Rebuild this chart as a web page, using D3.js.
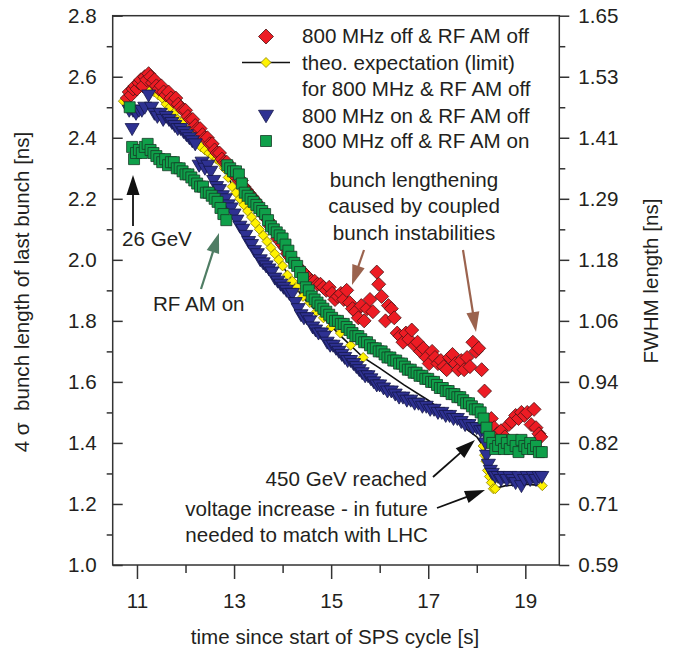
<!DOCTYPE html>
<html>
<head>
<meta charset="utf-8">
<script src="https://cdn.jsdelivr.net/npm/d3@7"></script>
<style>
  body { margin: 0; background: #fff; }
  svg { display: block; font-family: "Liberation Sans", Arial, Helvetica, sans-serif; }
</style>
</head>
<body>
<script>
// chart data ================================================================
var xTicks       = [11, 12, 13, 14, 15, 16, 17, 18, 19]
var xTickLabels  = ["11", "", "13", "", "15", "", "17", "", "19"]
var yTicks       = [1.0, 1.1, 1.2, 1.3, 1.4, 1.5, 1.6, 1.7, 1.8, 1.9, 2.0, 2.1, 2.2, 2.3, 2.4, 2.5, 2.6, 2.7, 2.8]
var yTickLabels  = ["1.0", "", "1.2", "", "1.4", "", "1.6", "", "1.8", "", "2.0", "", "2.2", "", "2.4", "", "2.6", "", "2.8"]
var fwhmLabels   = ["0.59", "", "0.71", "", "0.82", "", "0.94", "", "1.06", "", "1.18", "", "1.29", "", "1.41", "", "1.53", "", "1.65"]

var legendLabels = ["800 MHz off & RF AM off", "theo. expectation (limit)", "for 800 MHz & RF AM off",
                    "800 MHz on & RF AM off", "800 MHz off & RF AM on"]

// 800 MHz off & RF AM off  [time s, 4 sigma ns]
var offOff = [
  [10.80,2.53],[10.84,2.55],[10.88,2.54],[10.92,2.56],[10.96,2.57],[11.00,2.56],[11.04,2.58],[11.08,2.59],
  [11.12,2.57],[11.16,2.60],[11.20,2.59],[11.24,2.61],[11.28,2.60],[11.32,2.58],[11.36,2.59],[11.40,2.57],
  [11.45,2.56],[11.50,2.57],[11.55,2.55],[11.60,2.54],[11.65,2.55],[11.70,2.53],[11.75,2.52],[11.80,2.53],
  [11.85,2.51],[11.90,2.50],[11.95,2.49],[12.00,2.49],[12.05,2.47],[12.10,2.46],[12.15,2.46],[12.20,2.44],
  [12.25,2.43],[12.30,2.43],[12.35,2.41],[12.40,2.40],[12.45,2.40],[12.50,2.38],[12.55,2.38],[12.60,2.36],
  [12.65,2.35],[12.70,2.35],[12.75,2.33],[12.80,2.32],[12.85,2.32],[12.90,2.30],[12.95,2.29],[13.00,2.29],
  [13.05,2.27],[13.10,2.26],[13.15,2.26],[13.20,2.24],[13.25,2.23],[13.30,2.22],[13.35,2.21],[13.40,2.20],
  [13.45,2.19],[13.50,2.17],[13.55,2.17],[13.60,2.15],[13.65,2.14],[13.70,2.13],[13.75,2.11],[13.80,2.10],
  [13.85,2.09],[13.90,2.07],[13.95,2.06],[14.00,2.05],[14.05,2.04],[14.10,2.02],[14.15,2.01],[14.20,2.00],
  [14.25,1.99],[14.30,1.98],[14.36,1.97],[14.42,1.96],[14.48,1.95],[14.54,1.94],[14.60,1.93],[14.66,1.93],
  [14.72,1.92],[14.78,1.92],[14.84,1.91],[14.90,1.90],[14.96,1.91],
  [15.02,1.89],[15.08,1.87],[15.14,1.88],[15.20,1.89],[15.26,1.87],[15.32,1.90],[15.38,1.86],[15.44,1.84],
  [15.50,1.83],[15.56,1.81],[15.62,1.85],[15.68,1.80],[15.74,1.84],[15.80,1.87],[15.86,1.83],[15.94,1.96],
  [15.98,1.92],[16.04,1.88],[16.12,1.80],[16.18,1.85],[16.24,1.84],[16.30,1.81],[16.36,1.76],
  [16.42,1.75],[16.48,1.73],[16.54,1.76],[16.60,1.74],[16.66,1.77],[16.72,1.72],[16.78,1.73],[16.84,1.70],
  [16.90,1.71],[16.96,1.68],[17.02,1.66],[17.08,1.70],[17.14,1.68],[17.20,1.66],[17.26,1.67],[17.32,1.65],
  [17.38,1.64],[17.44,1.68],[17.50,1.69],[17.56,1.66],[17.62,1.64],[17.68,1.67],[17.74,1.64],[17.80,1.68],
  [17.86,1.65],[17.92,1.73],[17.98,1.70],[18.04,1.71],[18.10,1.64],
  [18.16,1.57],[18.22,1.47],[18.26,1.44],[18.30,1.48],[18.36,1.45],[18.42,1.43],[18.50,1.44],[18.58,1.42],
  [18.66,1.46],[18.72,1.47],[18.80,1.49],[18.86,1.48],[18.92,1.50],[18.98,1.49],[19.04,1.50],[19.12,1.46],
  [19.18,1.51],[19.22,1.45],[19.28,1.43],[19.32,1.42]
]

// theoretical expectation (limit): the curve and its marked points
var theoCurve = [
  [10.72,2.52],[11.00,2.56],[11.20,2.57],[11.40,2.55],[11.60,2.51],[11.84,2.46],[12.00,2.43],[12.40,2.36],
  [12.80,2.30],[13.00,2.23],[13.40,2.13],[13.80,2.03],[14.00,1.98],[14.40,1.88],[14.84,1.81],[15.20,1.75],
  [15.66,1.68],[16.00,1.645],[16.50,1.59],[17.00,1.54],[17.50,1.48],[18.00,1.42],[18.13,1.39],[18.19,1.34],
  [18.26,1.29],[18.34,1.25],[18.60,1.26],[19.00,1.265],[19.35,1.26]
]
var theoPoints = [
  [10.72,2.52],[10.80,2.53],[10.88,2.54],[10.96,2.55],[11.04,2.56],[11.12,2.57],[11.20,2.57],[11.28,2.56],
  [11.36,2.55],[11.44,2.54],[11.52,2.53],[11.60,2.51],[11.68,2.50],[11.76,2.48],[11.84,2.46],[11.92,2.45],
  [12.00,2.43],[12.08,2.42],[12.16,2.40],[12.24,2.39],[12.32,2.37],[12.40,2.36],[12.48,2.35],[12.56,2.34],
  [12.64,2.33],[12.72,2.32],[12.80,2.30],[12.88,2.27],[12.96,2.24],[13.04,2.22],[13.12,2.20],[13.20,2.18],
  [13.28,2.16],[13.36,2.14],[13.44,2.12],[13.52,2.10],[13.60,2.08],[13.68,2.06],[13.76,2.04],[13.84,2.02],
  [13.92,2.00],[14.00,1.98],[14.10,1.95],[14.20,1.93],[14.30,1.91],[14.42,1.88],[14.56,1.86],[14.70,1.83],
  [14.84,1.81],[15.00,1.78],[15.19,1.76],[15.40,1.72],[15.66,1.68],
  [18.13,1.39],[18.16,1.36],[18.19,1.34],[18.22,1.31],[18.26,1.29],[18.30,1.27],[18.34,1.25],[18.38,1.25],
  [19.35,1.26]
]

// 800 MHz on & RF AM off
var onOff = [
  [10.84,2.49],[10.90,2.43],[10.92,2.49],[10.98,2.48],[11.04,2.49],[11.10,2.49],[11.16,2.50],[11.24,2.54],
  [11.30,2.50],[11.36,2.48],[11.42,2.47],[11.48,2.48],[11.54,2.46],[11.60,2.47],[11.66,2.46],[11.72,2.45],
  [11.78,2.44],[11.84,2.43],[11.90,2.43],[11.96,2.42],[12.02,2.41],[12.08,2.40],[12.14,2.39],[12.20,2.38],
  [12.28,2.31],[12.34,2.32],[12.40,2.30],[12.46,2.31],[12.52,2.29],[12.58,2.26],[12.64,2.24],[12.70,2.23],
  [12.76,2.21],[12.82,2.20],[12.88,2.18],[12.94,2.17],[13.00,2.15],[13.06,2.13],[13.12,2.11],[13.18,2.10],
  [13.24,2.08],[13.30,2.06],[13.36,2.05],[13.42,2.03],[13.48,2.02],[13.54,2.00],[13.60,1.99],[13.66,1.98],
  [13.72,1.97],[13.78,1.96],[13.84,1.94],[13.90,1.93],[13.96,1.92],[14.02,1.91],[14.08,1.90],[14.14,1.89],
  [14.20,1.89],[14.26,1.86],[14.32,1.84],[14.38,1.82],[14.44,1.81],[14.50,1.81],[14.56,1.80],[14.62,1.78],
  [14.68,1.77],[14.74,1.76],[14.80,1.76],[14.86,1.75],[14.92,1.73],[14.98,1.72],[15.04,1.72],[15.10,1.71],
  [15.16,1.70],[15.22,1.69],[15.28,1.68],[15.34,1.67],[15.40,1.67],[15.46,1.66],[15.52,1.65],[15.58,1.64],
  [15.64,1.63],[15.70,1.62],[15.76,1.62],[15.82,1.61],[15.88,1.60],[15.94,1.59],[16.00,1.59],[16.08,1.58],
  [16.16,1.57],[16.24,1.57],[16.32,1.56],[16.40,1.55],[16.48,1.55],[16.56,1.54],[16.64,1.54],[16.72,1.53],
  [16.80,1.53],[16.88,1.52],[16.96,1.52],[17.04,1.51],[17.12,1.51],[17.20,1.50],[17.28,1.50],[17.36,1.49],
  [17.44,1.49],[17.52,1.48],[17.60,1.48],[17.68,1.47],[17.76,1.46],[17.84,1.46],[17.92,1.45],[18.00,1.45],
  [18.08,1.44],[18.14,1.44],
  [18.18,1.40],[18.20,1.36],[18.24,1.33],[18.28,1.31],[18.32,1.30],[18.38,1.29],[18.44,1.29],[18.50,1.28],
  [18.56,1.29],[18.62,1.28],[18.68,1.29],[18.74,1.28],[18.80,1.27],[18.86,1.29],[18.92,1.26],[18.98,1.28],
  [19.04,1.29],[19.10,1.28],[19.16,1.29],[19.22,1.28],[19.28,1.29],[19.34,1.29]
]

// 800 MHz off & RF AM on
var offOn = [
  [10.85,2.50],
  [10.90,2.37],[10.94,2.33],[10.98,2.35],[11.04,2.36],[11.10,2.35],[11.16,2.37],[11.22,2.38],[11.28,2.36],
  [11.34,2.35],[11.40,2.34],[11.46,2.33],[11.52,2.32],[11.58,2.33],[11.64,2.31],[11.70,2.32],[11.76,2.32],
  [11.82,2.30],[11.88,2.30],[11.94,2.29],[12.00,2.28],[12.06,2.28],[12.12,2.27],[12.18,2.26],[12.24,2.25],
  [12.30,2.24],[12.36,2.24],[12.42,2.22],[12.48,2.22],[12.54,2.21],[12.60,2.20],[12.66,2.19],[12.72,2.17],
  [12.78,2.15],[12.84,2.13],
  [12.86,2.31],[12.92,2.30],[12.98,2.29],[13.04,2.29],[13.10,2.28],[13.16,2.25],[13.22,2.22],[13.28,2.21],
  [13.34,2.20],[13.40,2.19],[13.46,2.18],[13.52,2.17],[13.58,2.16],[13.64,2.15],[13.70,2.13],[13.76,2.11],
  [13.82,2.10],[13.88,2.09],[13.94,2.08],[14.00,2.07],[14.06,2.05],[14.12,2.03],[14.18,2.01],[14.24,1.99],
  [14.30,1.98],[14.36,1.96],[14.42,1.94],[14.48,1.91],[14.54,1.90],[14.60,1.88],[14.66,1.87],[14.72,1.86],
  [14.78,1.85],[14.84,1.84],[14.90,1.83],[14.96,1.82],[15.02,1.81],[15.08,1.80],[15.14,1.80],[15.20,1.79],
  [15.26,1.79],[15.32,1.78],[15.38,1.77],[15.44,1.76],[15.50,1.75],[15.56,1.75],[15.62,1.74],[15.68,1.73],
  [15.74,1.73],[15.80,1.72],[15.86,1.71],[15.92,1.71],[15.98,1.70],[16.04,1.70],[16.10,1.69],[16.16,1.68],
  [16.22,1.68],[16.28,1.67],[16.34,1.67],[16.40,1.66],[16.46,1.66],[16.52,1.65],[16.58,1.64],[16.64,1.64],
  [16.70,1.63],[16.76,1.63],[16.82,1.62],[16.88,1.62],[16.94,1.61],[17.00,1.61],[17.06,1.60],[17.12,1.60],
  [17.18,1.59],[17.24,1.58],[17.30,1.58],[17.36,1.57],[17.42,1.57],[17.48,1.56],[17.54,1.56],[17.60,1.55],
  [17.66,1.55],[17.72,1.54],[17.78,1.53],[17.84,1.53],[17.90,1.52],[17.96,1.51],[18.02,1.51],[18.08,1.50],
  [18.14,1.48],[18.20,1.45],[18.26,1.42],[18.32,1.40],[18.38,1.38],[18.44,1.39],[18.50,1.41],[18.56,1.38],
  [18.62,1.40],[18.68,1.38],[18.74,1.41],[18.80,1.39],[18.86,1.37],[18.92,1.41],[18.98,1.39],[19.04,1.38],
  [19.10,1.40],[19.16,1.38],[19.22,1.39],[19.28,1.37],[19.34,1.37]
]

// layout =====================================================================
var W = 673, H = 650
var frame = { left: 112.7, right: 559.3, top: 15.7, bottom: 565 }
var textColor = "#231f20", axisColor = "#333", fontSize = "20.6px"

var x = d3.scaleLinear().domain([10.5, 19.7]).range([frame.left, frame.right])
var y = d3.scaleLinear().domain([1.0, 2.8]).range([frame.bottom, frame.top])

var svg = d3.select("body").append("svg")
    .attr("width", W)
    .attr("height", H)

// marker shapes
function diamond(r) { return "M0," + (-r) + "L" + r + ",0L0," + r + "L" + (-r) + ",0Z" }
function square(s) { return "M" + (-s / 2) + "," + (-s / 2) + "h" + s + "v" + s + "h" + (-s) + "Z" }
function triDown(w, h) { return "M" + (-w / 2) + "," + (-h * 0.42) + "L" + (w / 2) + "," + (-h * 0.42) + "L0," + (h * 0.58) + "Z" }

var styles = {
    red:    { d: diamond(7),     fill: "#ed1c24", stroke: "#4a1414" },
    yellow: { d: diamond(5),     fill: "#fff200", stroke: "#8c7d00" },
    blue:   { d: triDown(14, 12), fill: "#2e3192", stroke: "#14164a" },
    green:  { d: square(11),     fill: "#0fa04a", stroke: "#173b26" }
}

// frame and axes =============================================================
svg.append("rect")
    .attr("x", frame.left).attr("y", frame.top)
    .attr("width", frame.right - frame.left).attr("height", frame.bottom - frame.top)
    .style("fill", "none").style("stroke", axisColor).style("stroke-width", 1.5)

function styleAxis(g, majorLen, minorLen, isMajor, dir) {
    g.select(".domain").remove()
    g.selectAll(".tick line").style("stroke", axisColor).style("stroke-width", 1.5)
        .each(function(d, i) {
            var len = isMajor(i) ? majorLen : minorLen
            d3.select(this).attr(dir, dir == "y2" ? len : (majorLen < 0 ? -len : len))
        })
    g.selectAll(".tick text").style("fill", textColor).style("font-size", fontSize)
}

var xAxis = svg.append("g")
    .attr("transform", "translate(0," + frame.bottom + ")")
    .call(d3.axisBottom(x).tickValues(xTicks).tickSizeInner(14).tickSizeOuter(0).tickPadding(14)
        .tickFormat(function(d, i) { return xTickLabels[i] }))
styleAxis(xAxis, 14, 8, function(i) { return xTickLabels[i] !== "" }, "y2")

var yAxis = svg.append("g")
    .attr("transform", "translate(" + frame.left + ",0)")
    .call(d3.axisLeft(y).tickValues(yTicks).tickSizeInner(10).tickSizeOuter(0).tickPadding(6)
        .tickFormat(function(d, i) { return yTickLabels[i] }))
styleAxis(yAxis, -10, 6, function(i) { return yTickLabels[i] !== "" }, "x2")

var y2Axis = svg.append("g")
    .attr("transform", "translate(" + frame.right + ",0)")
    .call(d3.axisRight(y).tickValues(yTicks).tickSizeInner(10).tickSizeOuter(0).tickPadding(9)
        .tickFormat(function(d, i) { return fwhmLabels[i] }))
styleAxis(y2Axis, 10, 6, function(i) { return fwhmLabels[i] !== "" }, "x2")

// axis titles
svg.append("text")
    .attr("x", (frame.left + frame.right) / 2 - 1).attr("y", 644)
    .attr("text-anchor", "middle")
    .style("font-size", fontSize).style("fill", textColor)
    .text("time since start of SPS cycle [s]")

svg.append("text")
    .attr("transform", "translate(29,292) rotate(-90)")
    .attr("text-anchor", "middle")
    .style("font-size", fontSize).style("fill", textColor).style("white-space", "pre")
    .text("4 σ  bunch length of last bunch [ns]")

svg.append("text")
    .attr("transform", "translate(658,281) rotate(-90)")
    .attr("text-anchor", "middle")
    .style("font-size", fontSize).style("fill", textColor)
    .text("FWHM length [ns]")

// data =======================================================================
var plot = svg.append("g")

plot.append("path")
    .datum(theoCurve)
    .attr("d", d3.line().x(function(d) { return x(d[0]) }).y(function(d) { return y(d[1]) }))
    .style("fill", "none").style("stroke", "#111").style("stroke-width", 1.6)

function addSeries(data, st) {
    plot.append("g")
        .selectAll("path")
        .data(data)
        .enter().append("path")
        .attr("d", st.d)
        .attr("transform", function(d) { return "translate(" + x(d[0]) + "," + y(d[1]) + ")" })
        .style("fill", st.fill)
        .style("stroke", st.stroke)
        .style("stroke-width", 0.8)
}
addSeries(theoPoints, styles.yellow)
addSeries(offOff, styles.red)
addSeries(onOff, styles.blue)
addSeries(offOn, styles.green)

// legend =====================================================================
var legend = svg.append("g")
var legendBase = [43, 69.5, 96, 122.5, 148]
legendLabels.forEach(function(lbl, i) {
    legend.append("text")
        .attr("x", 302).attr("y", legendBase[i])
        .style("font-size", fontSize).style("fill", textColor)
        .text(lbl)
})
function legendMark(st, cy) {
    legend.append("path").attr("d", st.d)
        .attr("transform", "translate(266," + cy + ")")
        .style("fill", st.fill).style("stroke", st.stroke).style("stroke-width", 0.8)
}
legendMark({ d: diamond(7.5), fill: styles.red.fill, stroke: styles.red.stroke }, 36.5)
legend.append("line").attr("x1", 242).attr("x2", 290).attr("y1", 62.5).attr("y2", 62.5)
    .style("stroke", "#111").style("stroke-width", 1.6)
legendMark(styles.yellow, 62.5)
legendMark({ d: triDown(15, 12.5), fill: styles.blue.fill, stroke: styles.blue.stroke }, 115.5)
legendMark(styles.green, 141)

// annotations ================================================================
function arrow(x1, y1, x2, y2, color, width) {
    var a = Math.atan2(y2 - y1, x2 - x1), len = 20, hw = 6.5
    var bx = x2 - len * Math.cos(a), by = y2 - len * Math.sin(a)
    svg.append("line")
        .attr("x1", x1).attr("y1", y1).attr("x2", bx + 2 * Math.cos(a)).attr("y2", by + 2 * Math.sin(a))
        .style("stroke", color).style("stroke-width", width)
    svg.append("path")
        .attr("d", "M" + x2 + "," + y2 +
            "L" + (bx - hw * Math.sin(a)) + "," + (by + hw * Math.cos(a)) +
            "L" + (bx + hw * Math.sin(a)) + "," + (by - hw * Math.cos(a)) + "Z")
        .style("fill", color)
}

function note(px, py, txt, anchor) {
    svg.append("text")
        .attr("x", px).attr("y", py)
        .attr("text-anchor", anchor || "start")
        .style("font-size", fontSize).style("fill", textColor)
        .text(txt)
}

note(122, 246, "26 GeV")
arrow(133, 226, 133, 175, "#111", 1.8)

note(153, 311, "RF AM on")
arrow(201, 289, 219, 233, "#4f7d64", 2.2)

note(414, 187, "bunch lengthening", "middle")
note(414, 213, "caused by coupled", "middle")
note(414, 240, "bunch instabilities", "middle")
arrow(364, 250, 352, 285, "#9b634e", 2.2)
arrow(463, 250, 476, 332, "#9b634e", 2.2)

note(427, 486, "450 GeV reached", "end")
note(428, 516, "voltage increase - in future", "end")
note(428, 542, "needed to match with LHC", "end")
arrow(433, 477, 475, 440, "#111", 1.8)
arrow(437, 508, 485, 490, "#111", 1.8)
</script>
</body>
</html>
